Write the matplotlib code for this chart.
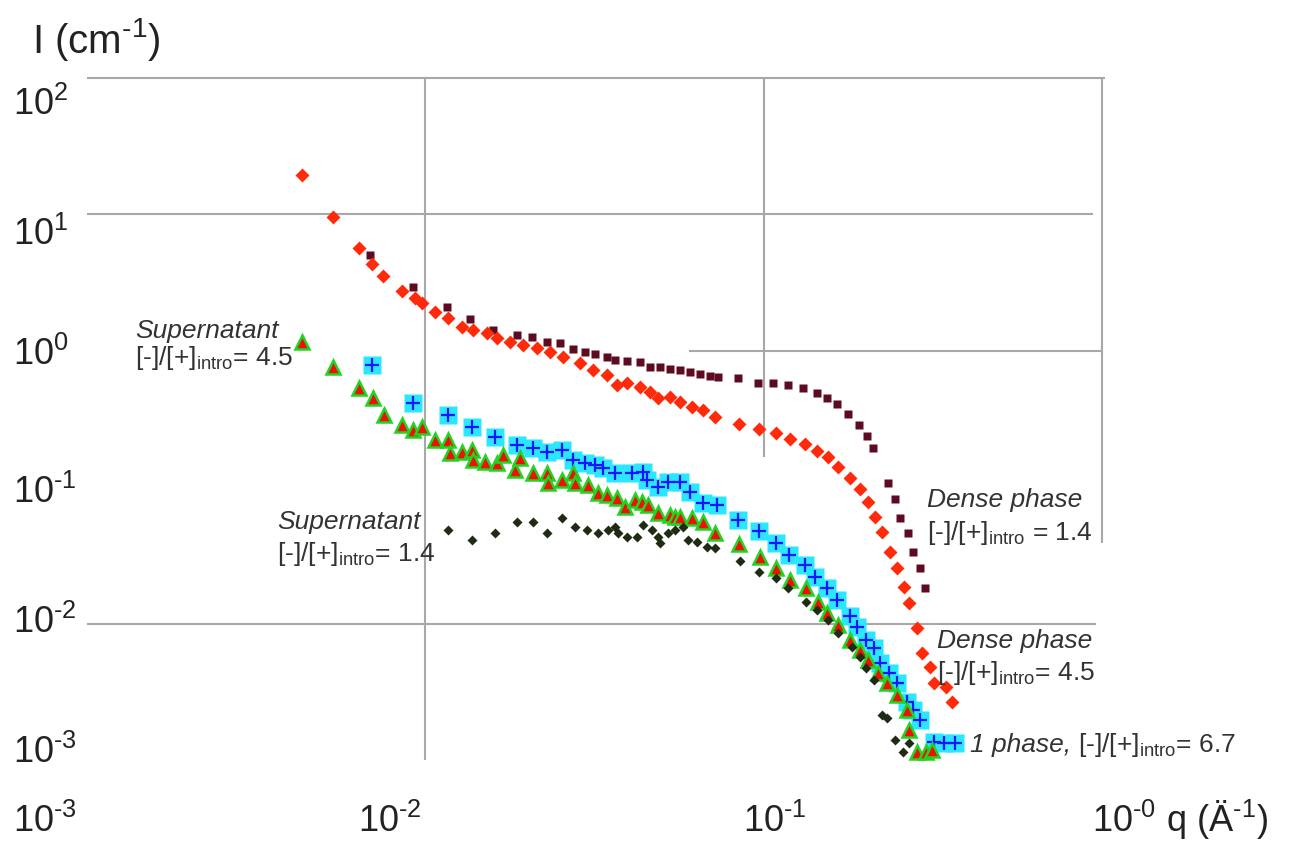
import matplotlib
matplotlib.use("Agg")
import matplotlib.pyplot as plt

# police proche d'Arial
plt.rcParams['font.family'] = ['Liberation Sans', 'DejaVu Sans']
plt.rcParams['mathtext.fontset'] = 'custom'
plt.rcParams['mathtext.rm'] = 'Liberation Sans'
plt.rcParams['mathtext.it'] = 'Liberation Sans:italic'
plt.rcParams['mathtext.default'] = 'regular'

# --- donnees (q en A-1, I en cm-1) ---

# phase dense [-]/[+] = 4.5 (losanges rouges)
q_dense45 = [0.00432, 0.00534, 0.00637, 0.00696, 0.00750, 0.00853, 0.00932, 0.00978,
             0.01068, 0.01167, 0.01284, 0.01384, 0.01522, 0.01629, 0.01780, 0.01945,
             0.02139, 0.02336, 0.02553, 0.02866, 0.03131, 0.03445, 0.03687, 0.03947,
             0.04312, 0.04615, 0.04873, 0.05288, 0.05661, 0.06143, 0.06621, 0.07184,
             0.0846, 0.09691, 0.1088, 0.1197, 0.1326, 0.1439, 0.1550, 0.1660,
             0.1801, 0.1928, 0.2035, 0.2135, 0.2239, 0.2364, 0.2480, 0.2600,
             0.2691, 0.2841, 0.2940, 0.3104, 0.3190, 0.3463, 0.3607]
I_dense45 = [19.45, 9.57, 5.672, 4.328, 3.535, 2.744, 2.438, 2.241,
             1.925, 1.740, 1.494, 1.420, 1.351, 1.241, 1.160, 1.103,
             1.048, 0.980, 0.9005, 0.8138, 0.7232, 0.6647, 0.5614, 0.5806,
             0.5428, 0.4988, 0.4508, 0.4584, 0.4213, 0.3873, 0.3681, 0.3270,
             0.2906, 0.2672, 0.2497, 0.2256, 0.2073, 0.1842, 0.1665, 0.1406,
             0.1168, 0.0970, 0.0779, 0.0605, 0.0470, 0.0335, 0.0256, 0.01855,
             0.01416, 0.00928, 0.00609, 0.00481, 0.00367, 0.00343, 0.00266]

# phase dense [-]/[+] = 1.4 (carres bordeaux)
q_dense14 = [0.00687, 0.00920, 0.01159, 0.01356, 0.01585, 0.01867, 0.02067, 0.02289,
             0.02501, 0.02732, 0.02966, 0.03174, 0.03445, 0.03637, 0.03947, 0.04312,
             0.04615, 0.04941, 0.05288, 0.05661, 0.06060, 0.06486, 0.06944, 0.07332,
             0.08403, 0.09627, 0.1066, 0.1181, 0.1308, 0.1439, 0.1539, 0.1648,
             0.1777, 0.1914, 0.2021, 0.2106, 0.2332, 0.2446, 0.2530, 0.2672,
             0.2765, 0.2900, 0.3001]
I_dense14 = [5.039, 2.936, 2.095, 1.711, 1.420, 1.306, 1.262, 1.160,
             1.141, 1.031, 0.980, 0.9473, 0.9005, 0.8562, 0.8417, 0.8276,
             0.7606, 0.7606, 0.7355, 0.7232, 0.6993, 0.6760, 0.6534, 0.6424,
             0.6317, 0.5806, 0.5806, 0.5614, 0.5337, 0.4904, 0.4508, 0.4074,
             0.3440, 0.2858, 0.2373, 0.1938, 0.1073, 0.0819, 0.0595, 0.0462,
             0.0335, 0.0256, 0.01824]

# 1 phase [-]/[+] = 6.7 (croix bleues sur carres cyan)
q_one67 = [0.00696, 0.00920, 0.01167, 0.01374, 0.01607, 0.01867, 0.02082, 0.02289,
           0.02536, 0.02732, 0.02966, 0.03174, 0.03352, 0.03637, 0.04083, 0.04401,
           0.04522, 0.04873, 0.05217, 0.05661, 0.06060, 0.06621, 0.07283, 0.08403,
           0.09691, 0.1088, 0.1189, 0.1326, 0.1419, 0.1539, 0.1648, 0.1801,
           0.189, 0.2008, 0.2120, 0.2209, 0.2348, 0.2480, 0.2654, 0.2765,
           0.2900, 0.3190, 0.3416, 0.3682]
I_one67 = [0.7868, 0.4143, 0.3382, 0.2763, 0.2333, 0.2039, 0.1938, 0.1812,
           0.1874, 0.1582, 0.1504, 0.1455, 0.1383, 0.1271, 0.1271, 0.1292,
           0.1129, 0.1003, 0.1092, 0.1092, 0.0922, 0.0766, 0.0740, 0.0575,
           0.0478, 0.0390, 0.0318, 0.0269, 0.0220, 0.0182, 0.0149, 0.0114,
           0.0094, 0.00758, 0.0066, 0.00514, 0.00434, 0.00367, 0.00266, 0.00233,
           0.00197, 0.00136, 0.00133, 0.00133]

# surnageant [-]/[+] = 4.5 (triangles)
q_super45 = [0.00432, 0.00534, 0.00637, 0.00700, 0.00755, 0.00853, 0.00920, 0.00978,
             0.01068, 0.01167, 0.01183, 0.01284, 0.01374, 0.01384, 0.01502, 0.01629,
             0.01697, 0.01842, 0.01906, 0.02082, 0.02289, 0.02305, 0.02536, 0.02732,
             0.02770, 0.03027, 0.03240, 0.03445, 0.03687, 0.03894, 0.04168, 0.04372,
             0.04553, 0.04873, 0.05288, 0.05471, 0.05661, 0.06143, 0.06621, 0.07184,
             0.0846, 0.09759, 0.1088, 0.1197, 0.1335, 0.1449, 0.1539, 0.1660,
             0.1801, 0.1928, 0.2035, 0.2179, 0.2316, 0.2480, 0.2654, 0.2691,
             0.2841, 0.3021, 0.3147]
I_super45 = [1.160, 0.7606, 0.5337, 0.4508, 0.3382, 0.2858, 0.2627, 0.2763,
             0.2218, 0.2218, 0.1781, 0.1812, 0.1874, 0.1582, 0.1530, 0.1504,
             0.1722, 0.1337, 0.1637, 0.1271, 0.1271, 0.1073, 0.1129, 0.1271,
             0.1073, 0.1038, 0.0907, 0.0877, 0.0833, 0.0716, 0.0806, 0.0779,
             0.0740, 0.0647, 0.0626, 0.0605, 0.0605, 0.0595, 0.0556, 0.0462,
             0.0383, 0.0308, 0.0256, 0.0209, 0.0182, 0.0144, 0.0120, 0.00976,
             0.00758, 0.00640, 0.00541, 0.00434, 0.00367, 0.00300, 0.00233, 0.00166,
             0.00115, 0.00115, 0.00118]

# surnageant [-]/[+] = 1.4 (petits losanges sombres)
q_super14 = [0.01167, 0.01374, 0.01607, 0.01867, 0.02082, 0.02289, 0.02536, 0.02770,
             0.03006, 0.03240, 0.03467, 0.03637, 0.03712, 0.03947, 0.04225, 0.04401,
             0.04679, 0.04873, 0.04941, 0.05217, 0.05471, 0.05778, 0.05978, 0.06355,
             0.06803, 0.07184, 0.08518, 0.09691, 0.1088, 0.1181, 0.1335, 0.1439,
             0.1550, 0.1660, 0.1826, 0.1928, 0.2008, 0.2120, 0.2239, 0.2316,
             0.2446, 0.2582, 0.2691]
I_super14 = [0.0486, 0.0410, 0.0462, 0.0556, 0.0556, 0.0462, 0.0595, 0.0511,
             0.0486, 0.0462, 0.0486, 0.0511, 0.0462, 0.0431, 0.0431, 0.0528,
             0.0486, 0.0431, 0.0390, 0.0462, 0.0486, 0.0511, 0.0410, 0.0396,
             0.0364, 0.0358, 0.0288, 0.0239, 0.0216, 0.0182, 0.0144, 0.0126,
             0.0106, 0.00853, 0.00674, 0.00569, 0.00473, 0.00386, 0.00214, 0.00203,
             0.00140, 0.00115, 0.00133]

y_tick_labels = ['$10^{2}$', '$10^{1}$', '$10^{0}$', r'$10^{\text{-}1}$', r'$10^{\text{-}2}$',
                 r'$10^{\text{-}3}$']
x_tick_labels = [r'$10^{\text{-}3}$', r'$10^{\text{-}2}$', r'$10^{\text{-}1}$']

W, H = 1295, 848
fig = plt.figure(figsize=(W / 100, H / 100), dpi=100)
fig.patch.set_facecolor('white')


def px(x, y):
    # pixels image -> fraction de figure
    return x / W, 1 - y / H


ax = fig.add_axes([87 / W, 88 / H, 1015 / W, 682 / H])
ax.set_xscale('log')
ax.set_yscale('log')
ax.set_xlim(1e-3, 1e0)
ax.set_ylim(1e-3, 1e2)
ax.set_axis_off()

# grille (comme sur l'original, certains traits sont incomplets)
gcol = '#a8a8a8'
ax.hlines(1e2, 1e-3, 1.02, color=gcol, lw=1.5, clip_on=False)
ax.hlines(1e1, 1e-3, 0.94, color=gcol, lw=1.5)
ax.hlines(1e0, 0.06, 1.0, color=gcol, lw=1.5)
ax.hlines(1e-2, 1e-3, 0.96, color=gcol, lw=1.5)
ax.vlines(1e-2, 1e-3, 1e2, color=gcol, lw=1.5)
ax.vlines(1e-1, 0.166, 1e2, color=gcol, lw=1.5)
ax.vlines(1e0, 0.039, 1e2, color=gcol, lw=1.5, clip_on=False)

# series
ax.plot(q_one67, I_one67, 's', ms=13.5, color='#2ae6ff', mec='none', zorder=3)
ax.plot(q_one67, I_one67, '+', ms=10, color='#1616ff', mew=1.6, zorder=4)
ax.plot(q_dense14, I_dense14, 's', ms=6.2, color='#5c0b21', mec='none', zorder=5)
ax.plot(q_dense45, I_dense45, 'D', ms=7.5, color='#ff2a0a', mec='none', zorder=6)
ax.plot(q_super45, I_super45, '^', ms=10.5, color='#ee1100', mec='#22d422', mew=1.8, zorder=7)
ax.plot(q_super14, I_super14, 'D', ms=4.6, color='#1f2b12', mec='none', zorder=8)

# axes : etiquettes placees comme dans l'original
tick_fs = 26
for lab, yb in zip(y_tick_labels, [115, 245, 365, 503, 633, 763]):
    fig.text(*px(13, yb), lab, fontsize=tick_fs, va='baseline', ha='left', color='#222222')
for lab, xl in zip(x_tick_labels, [13, 358, 743]):
    fig.text(*px(xl, 832), lab, fontsize=tick_fs, va='baseline', ha='left', color='#222222')
fig.text(*px(1092, 832), r'$10^{\text{-}0}$ q (Ä$^{\text{-}1}$)', fontsize=tick_fs,
         va='baseline', ha='left', color='#222222')
fig.text(*px(32, 53), r'I (cm$^{\text{-}1}$)', fontsize=29, va='baseline', ha='left',
         color='#222222')

# annotations
ann_fs = 19
tcol = '#333333'
notes = [
    (135, 338, 365, 'Supernatant', '[-]/[+]$_{intro}$= 4.5'),
    (277, 529, 561, 'Supernatant', '[-]/[+]$_{intro}$= 1.4'),
    (927, 507, 540, 'Dense phase', '[-]/[+]$_{intro}$ = 1.4'),
    (937, 648, 680, 'Dense phase', '[-]/[+]$_{intro}$= 4.5'),
]
for xl, y1, y2, t1, t2 in notes:
    fig.text(*px(xl, y1), t1, fontsize=ann_fs, style='italic', va='baseline', color=tcol)
    fig.text(*px(xl, y2), t2, fontsize=ann_fs, va='baseline', color=tcol)
fig.text(*px(970, 752), '1 phase,', fontsize=ann_fs, style='italic', va='baseline', color=tcol)
fig.text(*px(1078, 752), '[-]/[+]$_{intro}$= 6.7', fontsize=ann_fs, va='baseline', color=tcol)

fig.savefig('out.png', dpi=100, facecolor='white')
